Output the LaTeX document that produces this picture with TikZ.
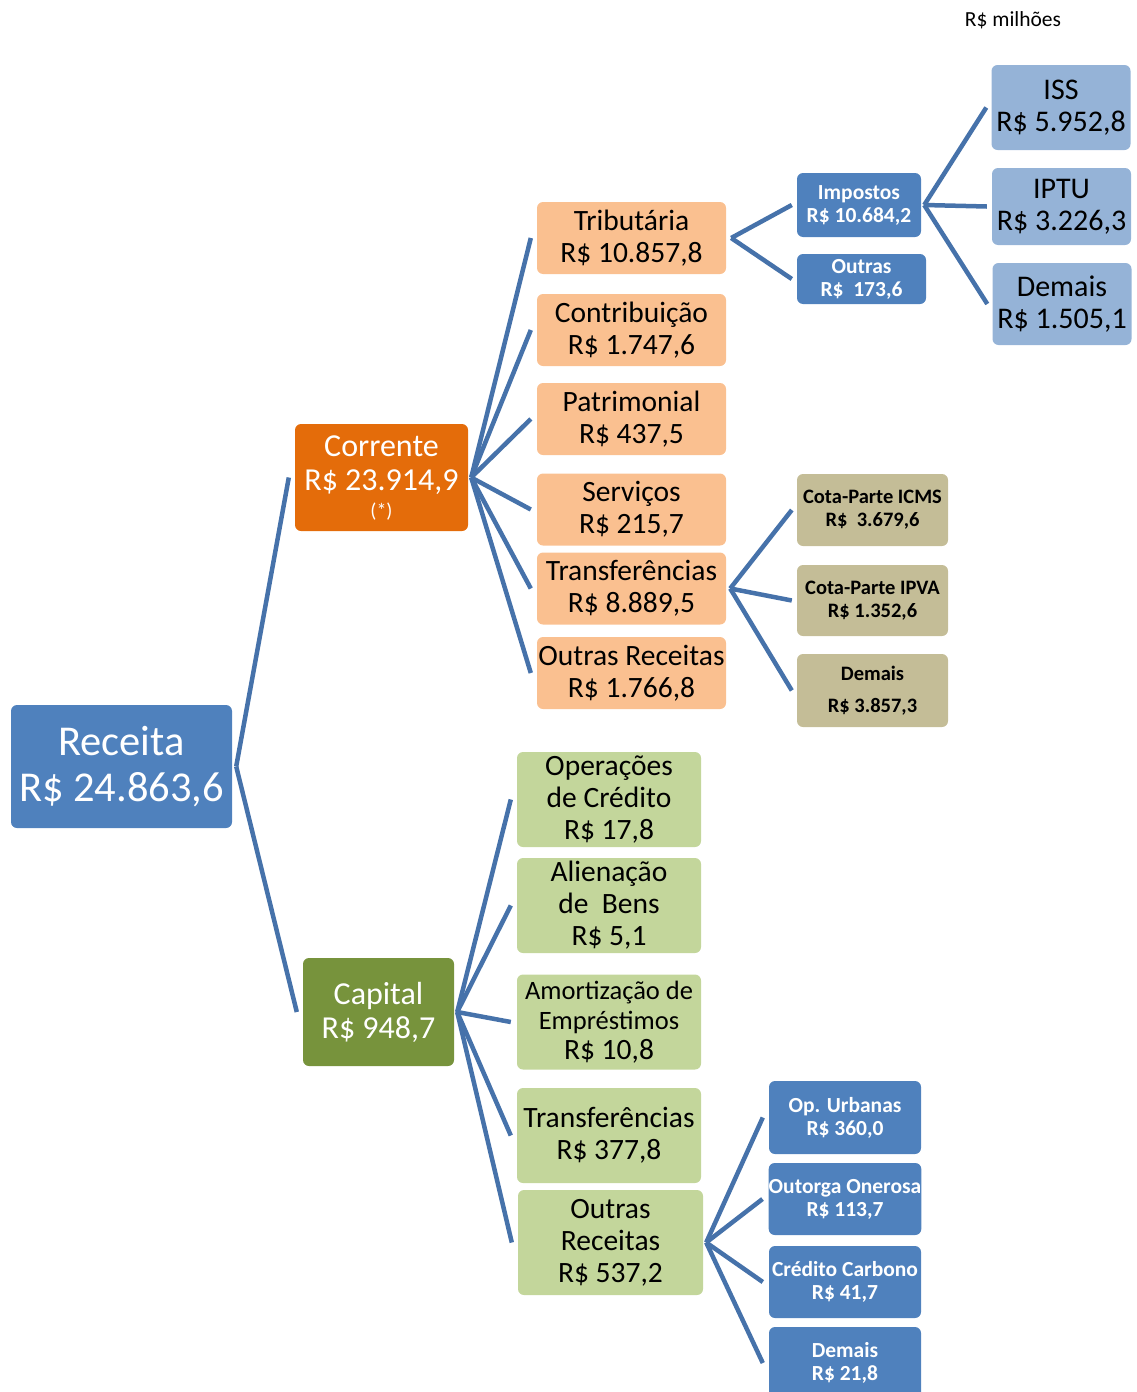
\documentclass[tikz,border=0pt]{standalone}
\usepackage{fontspec}
\setmainfont{Carlito}
\usepackage{tikz}
\usetikzlibrary{positioning}

\definecolor{Azul}{HTML}{4F81BD}
\definecolor{AzulClaro}{HTML}{95B3D7}
\definecolor{Laranja}{HTML}{E46C0A}
\definecolor{Pessego}{HTML}{FAC090}
\definecolor{Verde}{HTML}{77933C}
\definecolor{VerdeClaro}{HTML}{C3D69B}
\definecolor{Caqui}{HTML}{C4BD97}
\definecolor{Linha}{HTML}{4672AA}

\newcommand{\tam}[2]{\fontsize{#1}{#2}\selectfont}

\begin{document}
\begin{tikzpicture}[x=1pt, y=-1pt]
			\tikzstyle{Box}		= [rectangle, rounded corners=6pt, inner sep=0pt, align=center]
			\tikzstyle{Root}	= [Box, fill=Azul, text=white, font=\tam{42.5}{46}]
			\tikzstyle{Corr}	= [Box, fill=Laranja, text=white, font=\tam{32}{34}]
			\tikzstyle{Capi}	= [Box, fill=Verde, text=white, font=\tam{32}{34}]
			\tikzstyle{Peach}	= [Box, fill=Pessego, minimum width=189, minimum height=72, font=\tam{29.5}{32}]
			\tikzstyle{Lime}	= [Box, fill=VerdeClaro, minimum width=184, minimum height=95, font=\tam{29.5}{32}]
			\tikzstyle{Dark}	= [Box, fill=Azul, text=white, font=\bfseries\tam{21.5}{23}]
			\tikzstyle{Light}	= [Box, fill=AzulClaro, minimum width=139, font=\tam{30}{32}]
			\tikzstyle{Khaki}	= [Box, fill=Caqui, minimum width=151, font=\bfseries\tam{20.5}{23}]
			\tikzstyle{Link}	= [line width=4.5pt, Linha]

			\useasboundingbox (0,0) rectangle (1136,1392);
			\clip (0,0) rectangle (1136,1392);

			\node (unit) at (1013, 20) [font=\tam{21.5}{22}] {R\$ milhões};

			% raiz
			\node (rec) at (121.5, 766.5) [Root, minimum width=221, minimum height=123] {Receita\\R\$ 24.863,6};
			\node (cor) at (381.5, 477.5) [Corr, minimum width=173, minimum height=107] {Corrente\\R\$ 23.914,9\\[-7pt]{\tam{20}{22}(*)}};
			\node (cap) at (378.5, 1012) [Capi, minimum width=151, minimum height=108] {Capital\\R\$ 948,7};

			% correntes
			\node (trib) at (631.5, 238) [Peach] {Tributária\\R\$ 10.857,8};
			\node (contr) at (631.5, 330) [Peach] {Contribuição\\R\$ 1.747,6};
			\node (patr) at (631.5, 419) [Peach] {Patrimonial\\R\$ 437,5};
			\node (serv) at (631.5, 509.5) [Peach] {Serviços\\R\$ 215,7};
			\node (transf) at (631.5, 588.5) [Peach] {Transferências\\R\$ 8.889,5};
			\node (outc) at (631.5, 673) [Peach] {Outras Receitas\\R\$ 1.766,8};

			\node (imp) at (859, 205) [Dark, minimum width=124, minimum height=64] {Impostos\\R\$ 10.684,2};
			\node (outt) at (861.5, 279) [Dark, minimum width=129, minimum height=50] {Outras\\R\$~~173,6};

			\node (iss) at (1061, 107.5) [Light, minimum height=85] {ISS\\R\$ 5.952,8};
			\node (iptu) at (1061.5, 206.5) [Light, minimum height=77] {IPTU\\R\$ 3.226,3};
			\node (demi) at (1062, 304) [Light, minimum height=82] {Demais\\R\$ 1.505,1};

			\node (icms) at (872.5, 510) [Khaki, minimum height=72] {Cota-Parte ICMS\\R\$~~3.679,6};
			\node (ipva) at (872.5, 600.5) [Khaki, minimum height=71] {Cota-Parte IPVA\\R\$ 1.352,6};
			\node (demt) at (872.5, 690.5) [Khaki, minimum height=73] {Demais\\[9pt]R\$ 3.857,3};

			% capital
			\node (opcr) at (609, 799.5) [Lime] {Operações\\de Crédito\\R\$ 17,8};
			\node (alie) at (609, 905.5) [Lime] {Alienação\\de~ Bens\\R\$ 5,1};
			\node (amor) at (609, 1022) [Lime, font=\tam{26.5}{30}] {Amortização de\\Empréstimos\\{\tam{29.5}{30}R\$ 10,8}};
			\node (trak) at (609, 1135.5) [Lime] {Transferências\\R\$ 377,8};
			\node (outk) at (610.5, 1242.5) [Lime, minimum width=185, minimum height=105] {Outras\\Receitas\\R\$ 537,2};

			\node (opur) at (845, 1117.5) [Dark, minimum width=152, minimum height=73] {Op. Urbanas\\R\$ 360,0};
			\node (onus) at (845, 1199) [Dark, minimum width=152, minimum height=72] {Outorga Onerosa\\R\$ 113,7};
			\node (carb) at (845, 1282) [Dark, minimum width=152, minimum height=72] {Crédito Carbono\\R\$ 41,7};
			\node (demk) at (845, 1363) [Dark, minimum width=152, minimum height=72] {Demais\\R\$ 21,8};

			% pontos de ramificacao
			\coordinate (fr) at ([xshift=4pt]rec.east);
			\coordinate (fc) at ([xshift=3pt]cor.east);
			\coordinate (fk) at ([xshift=3pt]cap.east);
			\coordinate (ft) at ([xshift=5pt]trib.east);
			\coordinate (fi) at ([xshift=3pt]imp.east);
			\coordinate (fs) at ([xshift=4pt]transf.east);
			\coordinate (fo) at ([xshift=3pt]outk.east);

			\draw [Link] (fr) -- ([xshift=-6pt]cor.west);
			\draw [Link] (fr) -- ([xshift=-6pt]cap.west);

			\foreach \c in {trib, contr, patr, serv, transf, outc}
				\draw [Link] (fc) -- ([xshift=-6pt]\c.west);
			\foreach \c in {opcr, alie, amor, trak, outk}
				\draw [Link] (fk) -- ([xshift=-6pt]\c.west);
			\foreach \c in {imp, outt}
				\draw [Link] (ft) -- ([xshift=-5pt]\c.west);
			\foreach \c in {iss, iptu, demi}
				\draw [Link] (fi) -- ([xshift=-5pt]\c.west);
			\foreach \c in {icms, ipva, demt}
				\draw [Link] (fs) -- ([xshift=-5pt]\c.west);
			\foreach \c in {opur, onus, carb, demk}
				\draw [Link] (fo) -- ([xshift=-6pt]\c.west);
		\end{tikzpicture}
\end{document}
